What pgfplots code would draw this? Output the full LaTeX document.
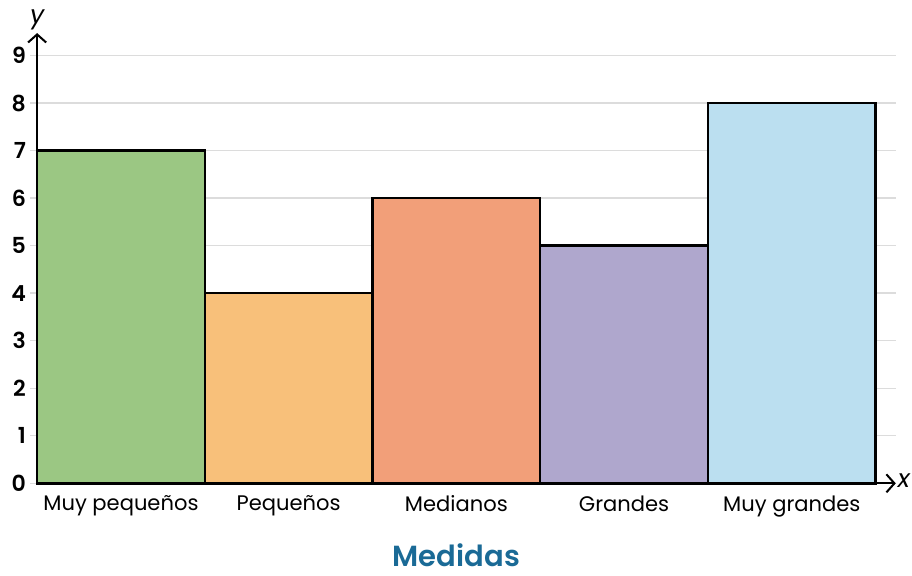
\documentclass[border=0pt]{standalone}
\usepackage{pgfplots}
\pgfplotsset{compat=1.18}
\usepackage{fontspec}
\setmainfont{Poppins}[BoldFont=* SemiBold]
\usetikzlibrary{arrows.meta}
\definecolor{cGreen}{HTML}{9BC783}
\definecolor{cOrange}{HTML}{F8C07A}
\definecolor{cSalmon}{HTML}{F29F79}
\definecolor{cLav}{HTML}{AFA7CD}
\definecolor{cBlue}{HTML}{BBDFF0}
\definecolor{cTitle}{HTML}{1A6A96}
\definecolor{cGrid}{HTML}{DCDCDC}
\begin{document}
\begin{tikzpicture}
\begin{axis}[
    x=167.2pt, y=47.4pt,
    xmin=0, xmax=5.12,
    ymin=0, ymax=9.47,
    axis x line=bottom, axis y line=left,
    axis line style={line width=2pt, -{Straight Barb[length=8pt,width=18pt,line width=2pt]}},
    xtick={0.5,1.5,2.5,3.5,4.5},
    xticklabels={Muy pequeños, Pequeños, Medianos, Grandes, Muy grandes},
    x tick style={draw=none},
    ytick={0,...,9},
    y tick style={cGrid, line width=1.4pt},
    tick align=outside,
    major tick length=7pt,
    ymajorgrids,
    grid style={cGrid, line width=1.4pt},
    /pgf/number format/assume math mode=true,
    yticklabel style={font=\fontsize{22}{24}\selectfont\bfseries, inner xsep=2pt, xshift=-2pt},
    xticklabel style={font=\fontsize{21}{23}\selectfont, yshift=-2pt},
    clip=false,
]
\addplot[ybar, bar shift=0pt, bar width=1, fill=cGreen, draw=black, line width=2.4pt] coordinates {(0.5,7)};
\addplot[ybar, bar shift=0pt, bar width=1, fill=cOrange, draw=black, line width=2.4pt] coordinates {(1.5,4)};
\addplot[ybar, bar shift=0pt, bar width=1, fill=cSalmon, draw=black, line width=2.4pt] coordinates {(2.5,6)};
\addplot[ybar, bar shift=0pt, bar width=1, fill=cLav, draw=black, line width=2.4pt] coordinates {(3.5,5)};
\addplot[ybar, bar shift=0pt, bar width=1, fill=cBlue, draw=black, line width=2.4pt] coordinates {(4.5,8)};
\node[anchor=west, inner sep=2pt, font=\fontsize{25}{27}\selectfont\itshape] at (axis cs:5.12,0.05) {x};
\node[anchor=south, inner sep=3pt, font=\fontsize{25}{27}\selectfont\itshape] at (axis cs:0,9.47) {y};
\node[font=\fontsize{29}{31}\selectfont\bfseries, text=cTitle] at (axis cs:2.5,-1.52) {Medidas};
\path (axis cs:0,0) ++(-37pt,-92pt) coordinate (bbcorner);
\path (axis cs:0,9.47) ++(0,33pt) coordinate (bbtop);
\end{axis}
\end{tikzpicture}
\end{document}
